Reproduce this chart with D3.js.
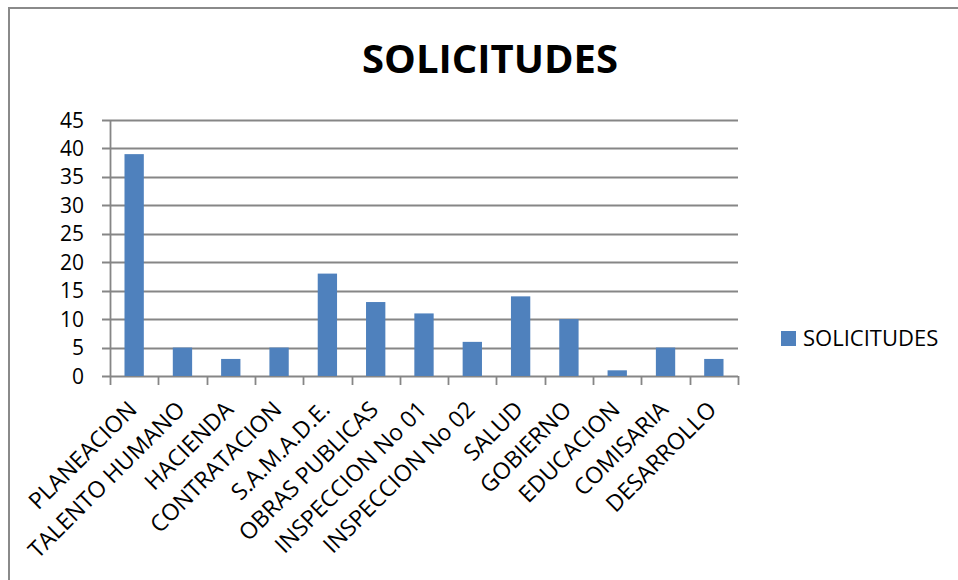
<!DOCTYPE html>
<html lang="es">
<meta charset="utf-8">
<title>Solicitudes</title>
<style>
  body { margin: 0; background: #fff; }
  svg { display: block; }
  text { font-family: "Open Sans", sans-serif; fill: #000; }
</style>
<body>
<div id="chart"></div>
<script src="https://cdn.jsdelivr.net/npm/d3@7"></script>
<script>
  // Data.
  var categories = ["PLANEACION", "TALENTO HUMANO", "HACIENDA", "CONTRATACION", "S.A.M.A.D.E.",
    "OBRAS PUBLICAS", "INSPECCION No 01", "INSPECCION No 02", "SALUD", "GOBIERNO",
    "EDUCACION", "COMISARIA", "DESARROLLO"];
  var solicitudes = [39, 5, 3, 5, 18, 13, 11, 6, 14, 10, 1, 5, 3];
  var yTicks = [0, 5, 10, 15, 20, 25, 30, 35, 40, 45];
  var seriesName = "SOLICITUDES";

  var W = 958, H = 580;
  var plot = { left: 110, right: 738, top: 120, bottom: 376 };

  var svg = d3.select("#chart").append("svg").attr("width", W).attr("height", H);

  // Outer frame (only top and left edges are visible in the crop)
  svg.append("path")
    .attr("d", "M9,580 V8 H958")
    .attr("fill", "none").attr("stroke", "#8a8a8a").attr("stroke-width", 2);

  var x = d3.scaleBand().domain(categories)
    .range([plot.left, plot.right]).paddingInner(0.6).paddingOuter(0.3);
  var y = d3.scaleLinear().domain([0, 45]).range([plot.bottom, plot.top]);

  // Gridlines
  svg.append("g").selectAll("line").data(yTicks).join("line")
    .attr("x1", plot.left - 8).attr("x2", plot.right)
    .attr("y1", function(d) { return Math.round(y(d)) + 0.5; })
    .attr("y2", function(d) { return Math.round(y(d)) + 0.5; })
    .attr("stroke", "#868686").attr("stroke-width", 1.8);

  // Y axis line
  svg.append("line")
    .attr("x1", plot.left + 0.5).attr("x2", plot.left + 0.5)
    .attr("y1", plot.top).attr("y2", plot.bottom)
    .attr("stroke", "#868686").attr("stroke-width", 1.8);

  // X tick marks at band boundaries
  var step = x.step();
  var bounds = d3.range(categories.length + 1).map(function(i) { return plot.left + i * step; });
  svg.append("g").selectAll("line").data(bounds).join("line")
    .attr("x1", function(d) { return Math.round(d) + 0.5; })
    .attr("x2", function(d) { return Math.round(d) + 0.5; })
    .attr("y1", plot.bottom).attr("y2", plot.bottom + 9)
    .attr("stroke", "#868686").attr("stroke-width", 1.8);

  // Y tick labels
  svg.append("g").selectAll("text").data(yTicks).join("text")
    .attr("x", 84).attr("y", function(d) { return y(d); })
    .attr("dy", "0.36em")
    .attr("text-anchor", "end")
    .style("font-size", "21px")
    .text(function(d) { return d; });

  // Bars
  svg.append("g").selectAll("rect").data(solicitudes).join("rect")
    .attr("x", function(d, i) { return x(categories[i]); })
    .attr("width", x.bandwidth())
    .attr("y", function(d) { return y(d); })
    .attr("height", function(d) { return y(0) - y(d); })
    .attr("fill", "#4f81bd");

  // Category labels, rotated
  svg.append("g").selectAll("text").data(categories).join("text")
    .attr("text-anchor", "end")
    .attr("transform", function(d) {
      var cx = x(d) + x.bandwidth() / 2 + 4;
      return "translate(" + cx + "," + (plot.bottom + 35) + ") rotate(-45)";
    })
    .style("font-size", "23px")
    .text(function(d) { return d; });

  // Title
  svg.append("text")
    .attr("x", 490).attr("y", 73)
    .attr("text-anchor", "middle")
    .style("font-size", "40px").style("font-weight", "bold")
    .text(seriesName);

  // Legend
  var legend = svg.append("g").attr("transform", "translate(781,331)");
  legend.append("rect").attr("width", 15).attr("height", 15).attr("fill", "#4f81bd");
  legend.append("text").attr("x", 22).attr("y", 15)
    .style("font-size", "22px").text(seriesName);
</script>
</body>
</html>
